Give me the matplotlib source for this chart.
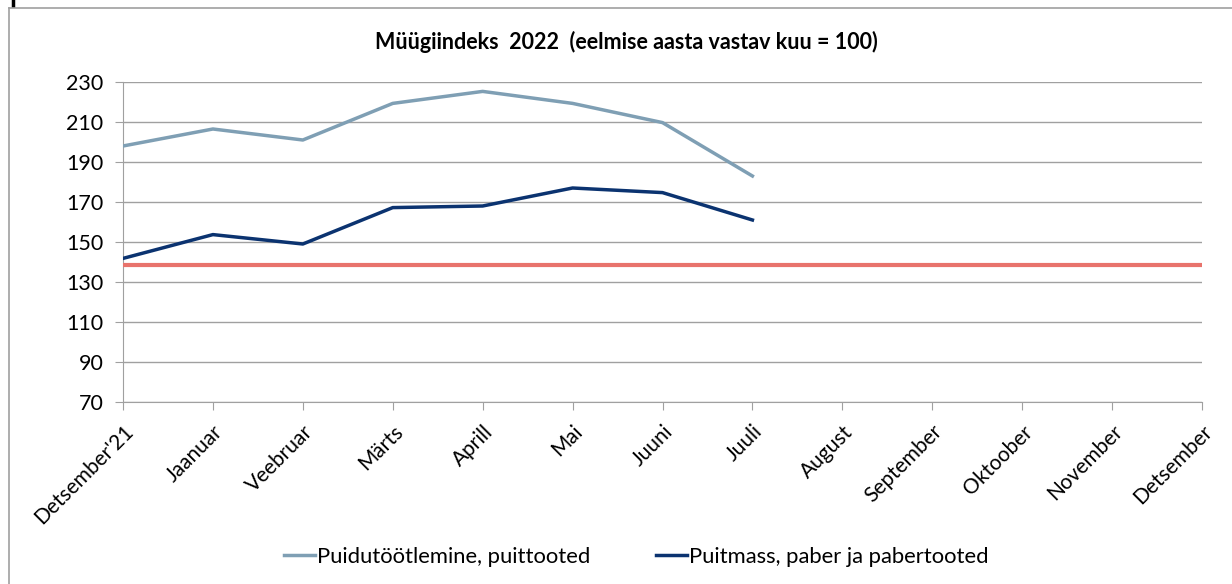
import matplotlib
matplotlib.use("Agg")
import matplotlib.pyplot as plt
from matplotlib.lines import Line2D

plt.rcParams['font.family'] = ['Lato', 'DejaVu Sans']

months = ["Detsember'21", "Jaanuar", "Veebruar", "Märts", "Aprill", "Mai", "Juuni",
          "Juuli", "August", "September", "Oktoober", "November", "Detsember"]
puidu = [198, 206.5, 201, 219.3, 225.3, 219.3, 209.7, 183]
puitmass = [141.8, 153.7, 149, 167.2, 168, 177, 174.7, 161]
reference = [138.3] * 13
yticks = [70, 90, 110, 130, 150, 170, 190, 210, 230]

fig = plt.figure(figsize=(12.32, 5.84), dpi=100)
ax = fig.add_axes([123/1232, 1-402/584, (1202-123)/1232, (402-82)/584])

x_all = list(range(len(months)))
ax.plot(x_all, reference, color='#e8736c', lw=3, solid_capstyle='butt', zorder=3)
ax.plot(range(len(puidu)), puidu, color='#7f9fb4', lw=2.5, label='Puidutöötlemine, puittooted', zorder=4)
ax.plot(range(len(puitmass)), puitmass, color='#0b3370', lw=2.5, label='Puitmass, paber ja pabertooted', zorder=4)

ax.set_xlim(0, 12)
ax.set_ylim(70, 230)
ax.set_yticks(yticks)
ax.set_xticks(x_all)
ax.set_xticklabels(months, rotation=45, ha='right', va='top', rotation_mode='anchor', fontsize=15)
ax.tick_params(axis='y', labelsize=15.5, length=6, color='#a0a0a0', pad=8)
ax.tick_params(axis='x', length=6, color='#a0a0a0', pad=8)
ax.grid(axis='y', color='#a0a0a0', lw=1)
ax.set_axisbelow(True)
for s in ['top', 'right']:
    ax.spines[s].set_visible(False)
ax.spines['left'].set_color('#a0a0a0')
ax.spines['bottom'].set_color('#a0a0a0')

fig.text(626/1232, 1-42/584, 'Müügiindeks  2022  (eelmise aasta vastav kuu = 100)', fontsize=15.5,
         fontweight='bold', ha='center', va='center')

handles = [Line2D([], [], color='#7f9fb4', lw=2.5), Line2D([], [], color='#0b3370', lw=2.5)]
fig.legend(handles, ['Puidutöötlemine, puittooted', 'Puitmass, paber ja pabertooted'],
           loc='center', bbox_to_anchor=(636/1232, 1-557/584), ncol=2, frameon=False,
           fontsize=15.8, handlelength=1.4, handletextpad=0.1, columnspacing=3)

# chart frame (left and top edges)
fig.add_artist(Line2D([9/1232, 9/1232], [0, 1-8/584], color='#a0a0a0', lw=1.2))
fig.add_artist(Line2D([9/1232, 1], [1-8/584, 1-8/584], color='#a0a0a0', lw=1.2))
fig.add_artist(Line2D([13/1232, 13/1232], [1, 1-5/584], color='black', lw=2.5))

fig.savefig('out.png', dpi=100)
